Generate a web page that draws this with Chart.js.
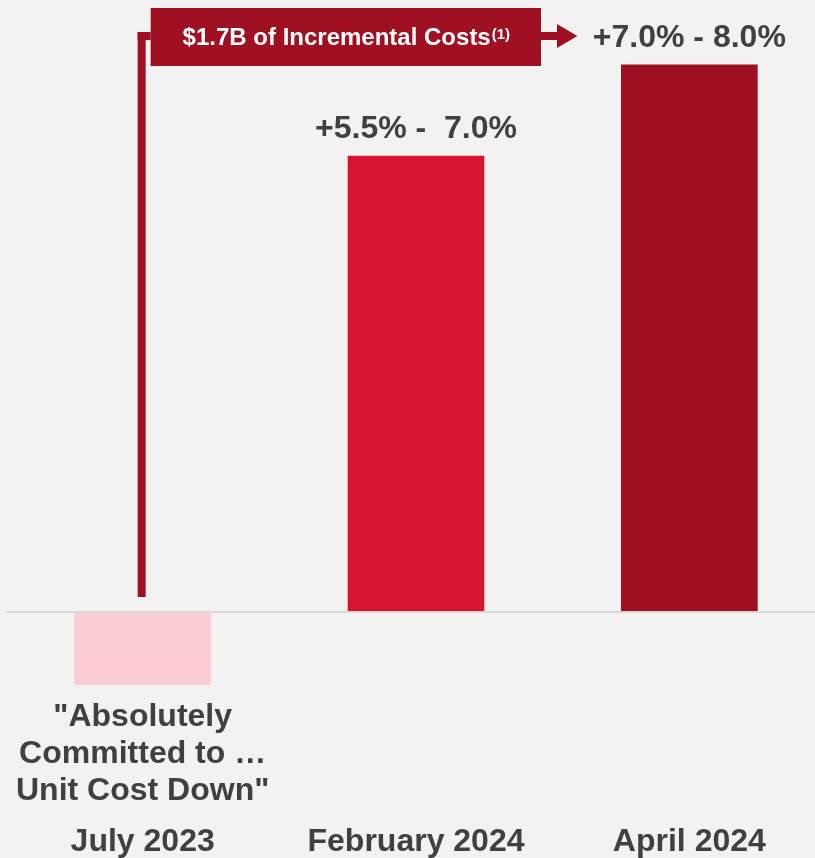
<!DOCTYPE html>
<html>
<head>
<meta charset="utf-8">
<script src="https://cdn.jsdelivr.net/npm/chart.js@4"></script>
<style>
  html, body { margin: 0; padding: 0; background: #f2f2f2; overflow: hidden; }
  #wrap { position: relative; width: 832px; height: 858px; }
</style>
</head>
<body>
<div id="wrap"><canvas id="costChart"></canvas></div>
<script>
// values (bar height = midpoint of the guided range)
const categories = ['July 2023', 'February 2024', 'April 2024'];
const unitCostGrowth = [-1.0, 6.25, 7.5];
const rangeLabels = ['', '+5.5% -  7.0%', '+7.0% - 8.0%'];
const julyNote = ['"Absolutely', 'Committed to \u2026', 'Unit Cost Down"'];
const calloutText = '$1.7B of Incremental Costs';
const calloutNote = '(1)';

const TEXT = '#404040';
const DARK_RED = '#9e1022';
const FONT = '"Liberation Sans", Arial, sans-serif';

const labelsPlugin = {
    id: 'labels',
    afterDatasetsDraw(chart) {
        const ctx = chart.ctx;
        const x = chart.scales.x;
        const y = chart.scales.y;
        const zero = y.getPixelForValue(0);
        const meta = chart.getDatasetMeta(0);

        ctx.save();
        ctx.fillStyle = TEXT;
        ctx.textAlign = 'center';
        ctx.textBaseline = 'alphabetic';
        ctx.font = 'bold 32px ' + FONT;

        // range labels over the bars
        meta.data.forEach(function (bar, i) {
            if (!rangeLabels[i]) return;
            ctx.fillText(rangeLabels[i], bar.x, bar.y - 18);
        });

        // category labels at the bottom
        categories.forEach(function (c, i) {
            ctx.fillText(c, x.getPixelForValue(i), 851);
        });

        // quote under the July bar
        julyNote.forEach(function (line, i) {
            ctx.fillText(line, x.getPixelForValue(0), 726 + i * 37);
        });

        // callout: line from July up into the box, arrow to April
        const lineX = x.getPixelForValue(0) - 1;
        const midY = 36;
        const boxL = lineX + 9, boxR = x.getPixelForValue(1) + 125;
        const tip = x.getPixelForValue(2) - 112;
        ctx.fillStyle = DARK_RED;
        ctx.fillRect(lineX - 4, midY - 4, 8, zero - 15 - (midY - 4));
        ctx.fillRect(lineX - 4, midY - 4, boxL - lineX + 4, 8);
        ctx.fillRect(boxL, 8, boxR - boxL, 58);
        ctx.fillRect(boxR, midY - 4, 17, 8);
        ctx.beginPath();
        ctx.moveTo(boxR + 16, midY - 12);
        ctx.lineTo(tip, midY);
        ctx.lineTo(boxR + 16, midY + 12);
        ctx.closePath();
        ctx.fill();

        ctx.fillStyle = '#ffffff';
        ctx.textAlign = 'left';
        ctx.font = 'bold 24px ' + FONT;
        const mainW = ctx.measureText(calloutText).width;
        ctx.font = 'bold 15px ' + FONT;
        const supW = ctx.measureText(calloutNote).width;
        const startX = (boxL + boxR) / 2 - (mainW + supW) / 2;
        ctx.font = 'bold 24px ' + FONT;
        ctx.fillText(calloutText, startX, 45);
        ctx.font = 'bold 15px ' + FONT;
        ctx.fillText(calloutNote, startX + mainW + 1, 39);
        ctx.restore();
    }
};

new Chart(document.getElementById('costChart'), {
    type: 'bar',
    data: {
        labels: categories,
        datasets: [{
            data: unitCostGrowth,
            backgroundColor: ['#f9cdd3', '#d7152f', DARK_RED],
            borderWidth: 0,
            barPercentage: 1,
            categoryPercentage: 0.5
        }]
    },
    options: {
        responsive: true,
        maintainAspectRatio: false,
        animation: false,
        layout: { padding: { top: 28, bottom: 100, left: 6, right: 6 } },
        scales: {
            x: { display: false },
            y: {
                min: -2,
                max: 8,
                ticks: { display: false, stepSize: 1 },
                border: { display: false },
                grid: {
                    drawTicks: false,
                    lineWidth: 2,
                    color: function (c) {
                        return c.tick && c.tick.value === 0 ? '#d9d9d9' : 'rgba(0,0,0,0)';
                    }
                }
            }
        },
        plugins: {
            legend: { display: false },
            tooltip: { enabled: false }
        }
    },
    plugins: [labelsPlugin]
});
</script>
</body>
</html>
